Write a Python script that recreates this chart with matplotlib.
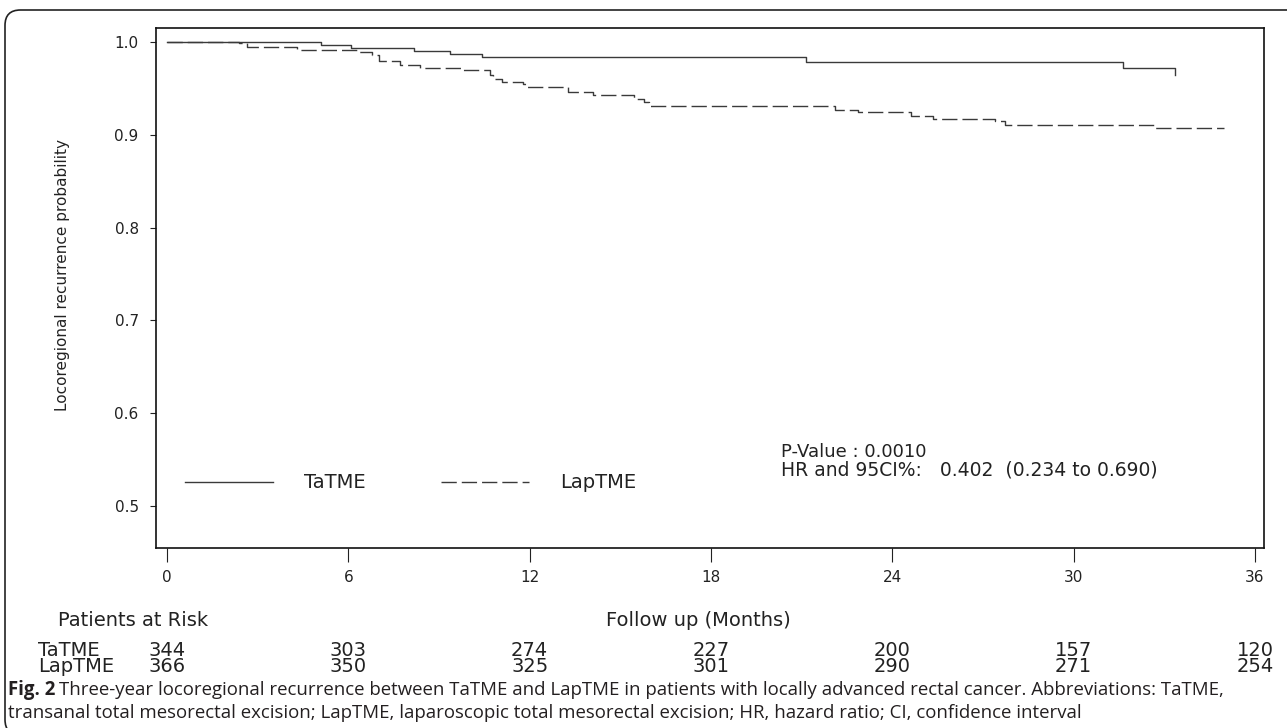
import numpy as np
import matplotlib.pyplot as plt
from matplotlib.patches import FancyBboxPatch

# Kaplan-Meier steps (months, probability)
ta_time = [0, 5.09, 6.10, 8.17, 9.36, 10.42, 21.13, 31.63, 33.34]
ta_surv = [1.0, 0.997, 0.994, 0.990, 0.9874, 0.9835, 0.978, 0.9723, 0.9644]

lap_time = [0, 2.39, 2.66, 4.31, 6.28, 6.78, 7.03, 7.72, 8.36, 9.73, 10.70, 10.78,
            11.10, 11.77, 11.90, 13.28, 14.09, 15.45, 15.80, 15.94, 22.10, 22.88,
            24.62, 25.36, 27.40, 27.74, 32.69, 34.97]
lap_surv = [1.0, 0.9986, 0.9943, 0.991, 0.989, 0.986, 0.980, 0.975, 0.972, 0.9695,
            0.9648, 0.960, 0.957, 0.9544, 0.9515, 0.9458, 0.9426, 0.939, 0.9357,
            0.931, 0.9267, 0.9242, 0.9206, 0.917, 0.9145, 0.9106, 0.907, 0.907]

x_ticks = [0, 6, 12, 18, 24, 30, 36]
y_ticks = [0.5, 0.6, 0.7, 0.8, 0.9, 1.0]
risk_groups = ['TaTME', 'LapTME']
risk_ta = [344, 303, 274, 227, 200, 157, 120]
risk_lap = [366, 350, 325, 301, 290, 271, 254]

W, H = 1287, 728
plt.rcParams['font.family'] = ['DejaVu Sans']
fig = plt.figure(figsize=(W / 100, H / 100), dpi=100)
txt_col = '#222222'
big = 14

def fx(px):
    return px / W

def fy(py):
    return 1 - py / H

# outer rounded frame
frame = FancyBboxPatch((fx(5), fy(735)), fx(1320), fy(10) - fy(735),
                       boxstyle='round,pad=0,rounding_size=0.012',
                       transform=fig.transFigure, fill=False, ec='#222222', lw=1.2,
                       mutation_aspect=W / H)
fig.patches.append(frame)

ax = fig.add_axes([fx(156), fy(548), fx(1264 - 156), (548 - 28) / H])
line_col = '#3a3a3a'
ax.step(ta_time, ta_surv, where='post', color=line_col, lw=1.0, label='TaTME')
ax.step(lap_time, lap_surv, where='post', color=line_col, lw=1.0,
        dashes=(11, 3.6), label='LapTME')

ax.set_xlim(-0.364, 36.3)
ax.set_ylim(0.4547, 1.0151)
ax.set_xticks(x_ticks)
ax.set_yticks(y_ticks)
ax.set_yticklabels(['%.1f' % v for v in y_ticks])
ax.tick_params(axis='x', direction='out', length=10, width=0.8, pad=6,
               labelsize=11, color=txt_col, labelcolor=txt_col)
ax.tick_params(axis='y', direction='out', length=4.5, width=0.8, pad=8,
               labelsize=11, color=txt_col, labelcolor=txt_col)
for s in ax.spines.values():
    s.set_linewidth(1.2)
    s.set_color('#111111')

ax.set_ylabel('Locoregional recurrence probability', fontsize=11, color=txt_col)
ax.yaxis.set_label_coords((70 - 156) / 1108, (548 - 275) / 520)

leg = ax.legend(loc='center left', bbox_to_anchor=((185 - 156) / 1108, (548 - 483) / 520),
                ncol=2, frameon=False, fontsize=big, handlelength=4.5,
                handletextpad=1.6, columnspacing=3.9, borderpad=0, borderaxespad=0)
for t in leg.get_texts():
    t.set_color(txt_col)

# stats text (kept tight, as in the original where the two lines nearly touch)
ax.text((781 - 156) / 1108, (548 - 452) / 520, 'P-Value : 0.0010', transform=ax.transAxes,
        fontsize=13, va='center', ha='left', color=txt_col)
ax.text((781 - 156) / 1108, (548 - 470) / 520, 'HR and 95CI%:   0.402  (0.234 to 0.690)',
        transform=ax.transAxes, fontsize=13.5, va='center', ha='left', color=txt_col)

# risk table below the axis
fig.text(fx(58), fy(621), 'Patients at Risk', fontsize=big, va='center', color=txt_col)
fig.text(fx(698), fy(621), 'Follow up (Months)', fontsize=big, va='center', ha='center',
         color=txt_col)
for row_y, name, vals in [(650, risk_groups[0], risk_ta), (667, risk_groups[1], risk_lap)]:
    fig.text(fx(38), fy(row_y), name, fontsize=big, va='center', color=txt_col)
    for xv, n in zip(x_ticks, vals):
        px = ax.transData.transform((xv, 0))[0]
        fig.text(px / W, fy(row_y), str(n), fontsize=big, va='center', ha='center',
                 color=txt_col)

# caption
cap_font = ['Open Sans', 'DejaVu Sans']
cap_size = 13.4
fig.canvas.draw()
bold = fig.text(fx(8), fy(690), 'Fig. 2', fontsize=cap_size, fontweight='bold',
                family=cap_font, va='center', color='#231f20')
r = fig.canvas.get_renderer()
bb = bold.get_window_extent(renderer=r)
fig.text((bb.x1 + 4) / W, fy(690),
         'Three-year locoregional recurrence between TaTME and LapTME in patients with '
         'locally advanced rectal cancer. Abbreviations: TaTME,',
         fontsize=cap_size, family=cap_font, va='center', color='#231f20')
fig.text(fx(8), fy(713),
         'transanal total mesorectal excision; LapTME, laparoscopic total mesorectal '
         'excision; HR, hazard ratio; CI, confidence interval',
         fontsize=cap_size, family=cap_font, va='center', color='#231f20')

fig.savefig('out.png', dpi=100)
